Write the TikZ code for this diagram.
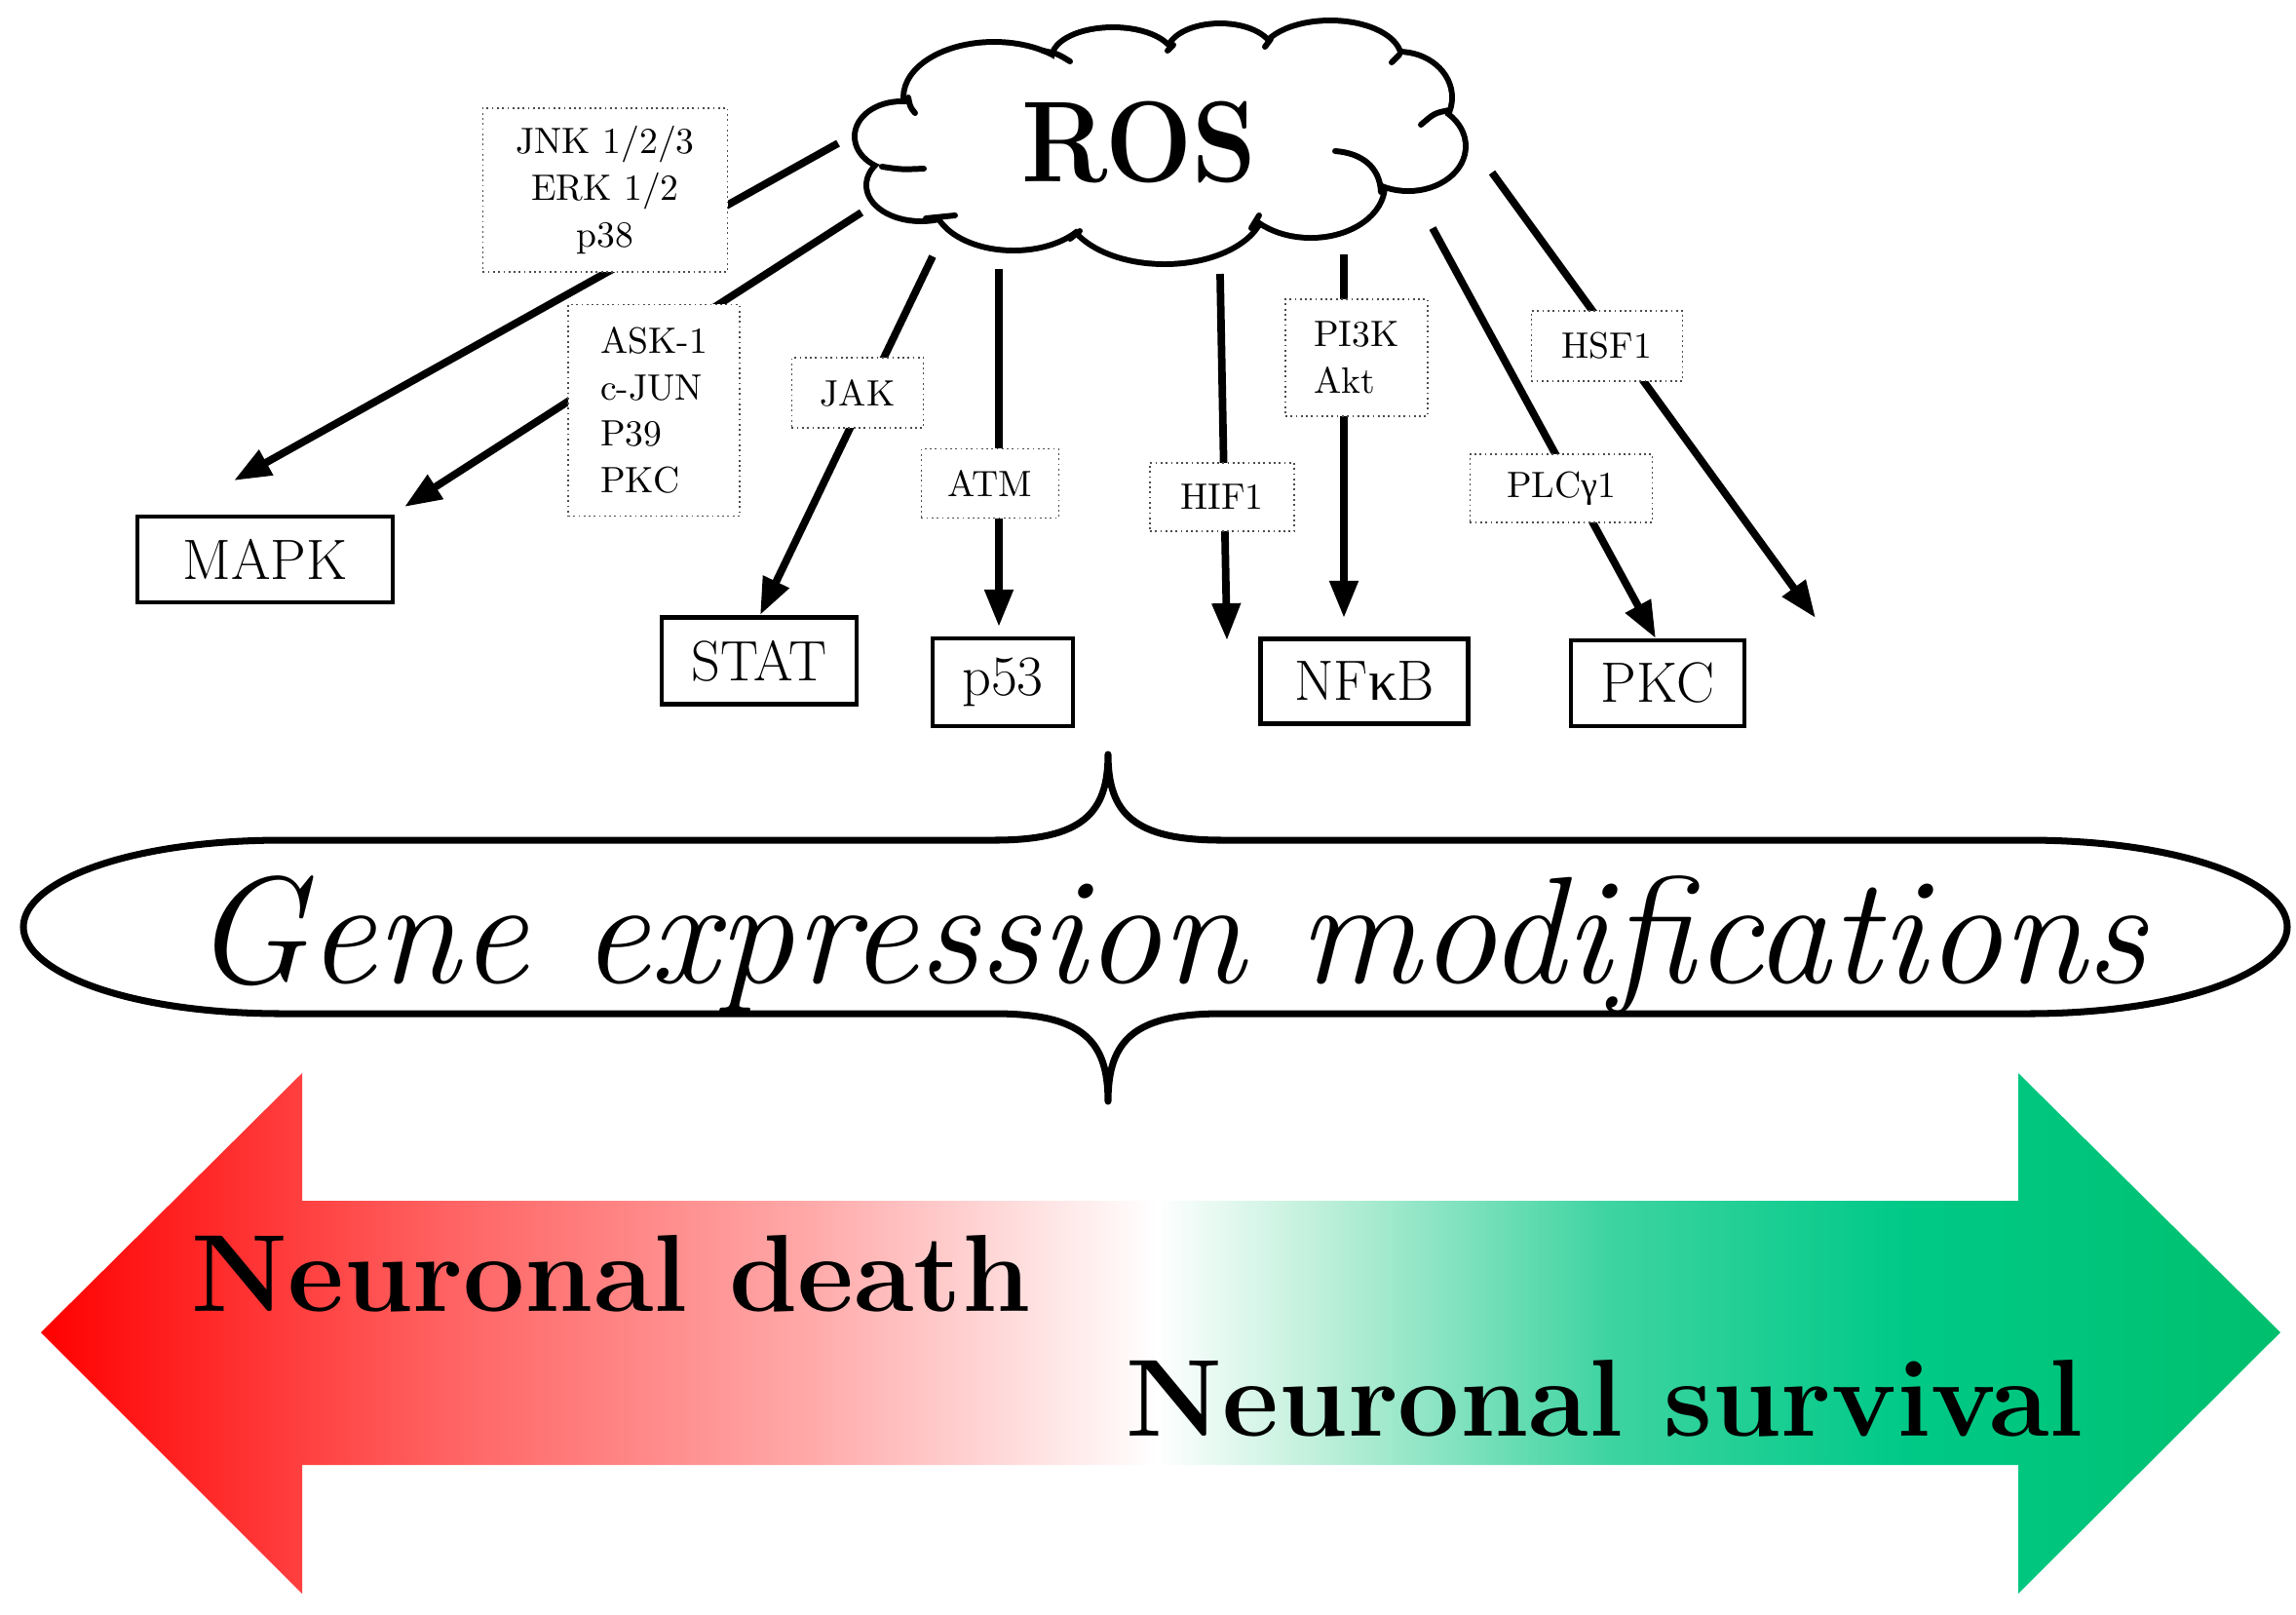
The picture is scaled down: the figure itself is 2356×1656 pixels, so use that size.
\documentclass[tikz,border=0pt]{standalone}
\usepackage{fontspec}
\newfontfamily\grk{Liberation Serif}
\usetikzlibrary{arrows.meta}
\pgfdeclarehorizontalshading{lifedeath}{100bp}{rgb(0bp)=(1,0,0); rgb(25bp)=(1,0,0); rgb(33.9bp)=(1,0.38,0.38); rgb(42.1bp)=(1,0.66,0.66); rgb(49.9bp)=(1,1,1); rgb(53.5bp)=(0.75,0.94,0.86); rgb(60bp)=(0.24,0.83,0.63); rgb(66.6bp)=(0,0.79,0.53); rgb(75bp)=(0,0.75,0.43); rgb(100bp)=(0,0.75,0.43)}
\begin{document}
\begin{tikzpicture}[x=0.01cm,y=-0.01cm,
  lbl/.style={draw=black!70, densely dotted, line width=0.5pt, fill=white, inner sep=0pt, font=\fontsize{10.7}{13.6}\selectfont, align=center},
  tgt/.style={draw, line width=1.2pt, fill=white, inner sep=0pt, font=\fontsize{16.6}{20}\selectfont},
  arr/.style={line width=2.2pt, -{Triangle[length=0.38cm,width=0.28cm]}},
  puff/.style={draw, line width=3.4pt},
  hook/.style={line width=1.7pt, line cap=round},
  big/.style={font=\fontsize{32}{38}\selectfont\bfseries, inner sep=0pt, anchor=base}
  ]
\useasboundingbox (0,0) rectangle (2356,1656);

% ---- cloud ----
\def\puffs{925/140/45/33, 945/190/53/34, 1040/205/80/49, 1195/210/100/58, 1345/190/73/51, 1445/150/56/43, 1435/100/52/44, 1365/60/70/36, 1252/55/52/28, 1142/60/60/29, 1020/100/90/54}
\foreach \cx/\cy/\rx/\ry in \puffs
  \draw[puff] (\cx,\cy) ellipse [x radius=\rx, y radius=\ry];
\foreach \cx/\cy/\rx/\ry in \puffs
  \fill[white] (\cx,\cy) ellipse [x radius=\rx, y radius=\ry];
\fill[white] (925,140) -- (945,190) -- (1040,205) -- (1195,210) -- (1345,190) -- (1450,150) -- (1440,100) -- (1365,60) -- (1252,55) -- (1142,60) -- (1020,100) -- cycle;
\draw[hook] (932,100) .. controls (934,110) .. (939,116);
\draw[hook] (905,171) .. controls (925,174) .. (948,173);
\draw[hook] (950,224) -- (980,221);
\draw[hook] (1098,245) -- (1108,237);
\draw[hook] (1284,234) -- (1292,221);
\draw[hook] (1417,197) .. controls (1416,172) and (1398,157) .. (1370,155);
\draw[hook] (1487,113) .. controls (1472,116) .. (1458,128);
\draw[hook] (1436,56) -- (1428,64);
\draw[hook] (1304,40) -- (1298,48);
\draw[hook] (1204,46) -- (1198,52);
\draw[hook] (1070,52) .. controls (1085,55) .. (1098,63);
\node[inner sep=0pt] (ros) at (1169,146) {\scalebox{1.0}[1.12]{\fontsize{30}{36}\selectfont\bfseries ROS}};

% ---- connector end points ----
\coordinate (r1) at (860,147);  \coordinate (e1) at (240,493);
\coordinate (r2) at (884,218);  \coordinate (e2) at (415,520);
\coordinate (r3) at (957,263);  \coordinate (e3) at (780,631);
\coordinate (r4) at (1025,276); \coordinate (e4) at (1025,643);
\coordinate (r5) at (1252,281); \coordinate (e5) at (1259,657);
\coordinate (r6) at (1379,261); \coordinate (e6) at (1379,634);
\coordinate (r7) at (1470,234); \coordinate (e7) at (1699,655);
\coordinate (r8) at (1531,177); \coordinate (e8) at (1863,634);
\foreach \i in {1,...,8} \draw[arr] (r\i) -- (e\i);

% ---- pathway labels ----
\node[lbl, minimum width=2.51cm, minimum height=1.68cm] (jnk) at (621,195) {JNK 1/2/3\\ERK 1/2\\p38};
\node[lbl, align=left, minimum width=1.76cm, minimum height=2.17cm] (ask) at (671,421) {ASK-1\\c-JUN\\P39\\PKC};
\node[lbl, minimum width=1.35cm, minimum height=0.72cm] (jak) at (880,403) {JAK};
\node[lbl, minimum width=1.41cm, minimum height=0.71cm] (atm) at (1016,496) {ATM};
\node[lbl, minimum width=1.48cm, minimum height=0.70cm] (hif) at (1254,510) {HIF1};
\node[lbl, align=left, minimum width=1.46cm, minimum height=1.20cm] (pik) at (1392,367) {PI3K\\Akt};
\node[lbl, minimum width=1.55cm, minimum height=0.72cm] (hsf) at (1649,355) {HSF1};
\node[lbl, minimum width=1.87cm, minimum height=0.70cm] (plc) at (1602,501) {PLC{\grk γ}1};

% ---- targets ----
\node[tgt, minimum width=2.62cm, minimum height=0.88cm] (mapk) at (272,574) {MAPK};
\node[tgt, minimum width=2.00cm, minimum height=0.89cm] (stat) at (779,678) {STAT};
\node[tgt, minimum width=1.44cm, minimum height=0.90cm] (p53) at (1029,700) {p53};
\node[tgt, minimum width=2.13cm, minimum height=0.87cm] (nfkb) at (1400,699) {NF{\grk κ}B};
\node[tgt, minimum width=1.78cm, minimum height=0.88cm] (pkc) at (1701,701) {PKC};

% ---- brace / lens ----
\draw[line width=2pt, line join=round]
  (24,951) .. controls (24,905) and (130,862) .. (290,862) -- (1020,862)
  .. controls (1110,862) and (1137,835) .. (1137,774)
  .. controls (1137,835) and (1164,862) .. (1254,862) -- (2080,862)
  .. controls (2240,862) and (2347,905) .. (2347,951)
  .. controls (2347,997) and (2240,1040) .. (2080,1040) -- (1254,1040)
  .. controls (1164,1040) and (1137,1067) .. (1137,1130)
  .. controls (1137,1067) and (1110,1040) .. (1020,1040) -- (290,1040)
  .. controls (130,1040) and (24,997) .. cycle;
\node[inner sep=0pt, anchor=base] (gene) at (1200,1008) {\fontsize{44.4}{52}\selectfont\itshape Gene expression modifications};

% ---- bottom double arrow ----
\shade[shading=lifedeath] (42,1367) -- (310,1101) -- (310,1232) -- (2071,1232) -- (2071,1101) -- (2340,1367) -- (2071,1635) -- (2071,1503) -- (310,1503) -- (310,1635) -- cycle;
\node[big] (death) at (627,1345) {Neuronal death};
\node[big] (surv) at (1647,1473) {Neuronal survival};
\end{tikzpicture}
\end{document}
